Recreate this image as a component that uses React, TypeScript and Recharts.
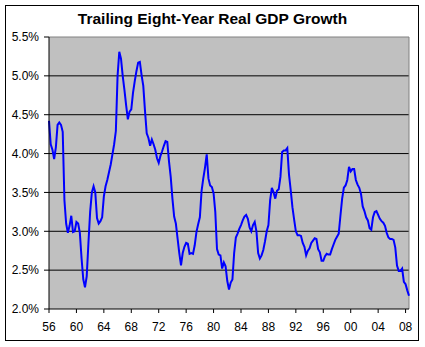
import {
  CartesianGrid,
  Line,
  LineChart,
  ReferenceLine,
  XAxis,
  YAxis,
} from "recharts";

// quarterly, starting 1956 Q1
const START_YEAR = 1956;

const GROWTH = [
  4.42, 4.12, 4.05, 3.93, 4.08, 4.37, 4.4, 4.37, 4.28, 3.4, 3.1, 2.98, 3.07, 3.2, 2.99, 3.0,
  3.12, 3.1, 2.98, 2.65, 2.38, 2.28, 2.42, 2.85, 3.25, 3.5, 3.58, 3.5, 3.17, 3.1, 3.13, 3.18,
  3.45, 3.58, 3.66, 3.76, 3.86, 3.99, 4.12, 4.29, 5.0, 5.31, 5.22, 5.0, 4.82, 4.62, 4.44, 4.54,
  4.57, 4.78, 4.93, 5.06, 5.17, 5.18, 5.01, 4.87, 4.55, 4.26, 4.2, 4.1, 4.18, 4.12, 4.05, 3.94,
  3.88, 3.97, 4.03, 4.1, 4.16, 4.15, 3.9, 3.7, 3.42, 3.19, 3.1, 2.91, 2.72, 2.56, 2.72, 2.8,
  2.85, 2.84, 2.71, 2.72, 2.71, 2.82, 2.99, 3.09, 3.18, 3.52, 3.68, 3.82, 3.99, 3.68, 3.59, 3.57,
  3.49, 3.25, 2.77, 2.7, 2.69, 2.52, 2.6, 2.55, 2.36, 2.25, 2.34, 2.38, 2.72, 2.92, 2.97, 3.03,
  3.08, 3.14, 3.19, 3.21, 3.16, 3.05, 3.0, 3.08, 3.12, 3.0, 2.72, 2.65, 2.69, 2.76, 2.87, 3.0,
  3.08, 3.4, 3.56, 3.5, 3.42, 3.52, 3.54, 3.7, 4.02, 4.04, 4.04, 4.07, 3.73, 3.53, 3.31, 3.15,
  3.0, 2.95, 2.95, 2.94, 2.85, 2.8, 2.69, 2.75, 2.78, 2.85, 2.88, 2.91, 2.9, 2.77, 2.73, 2.62,
  2.62, 2.68, 2.71, 2.7, 2.7, 2.77, 2.83, 2.89, 2.93, 2.97, 3.2, 3.42, 3.56, 3.59, 3.66, 3.83,
  3.77, 3.8, 3.8, 3.66, 3.6, 3.56, 3.48, 3.32, 3.26, 3.18, 3.14, 3.04, 3.02, 3.18, 3.25, 3.26,
  3.21, 3.16, 3.13, 3.11, 3.07, 2.98, 2.92, 2.9, 2.9, 2.89, 2.79, 2.56, 2.49, 2.49, 2.52, 2.35,
  2.32, 2.24, 2.17,
];

const YEAR_TICKS = [
  1956, 1960, 1964, 1968, 1972, 1976, 1980, 1984, 1988, 1992, 1996, 2000, 2004, 2008,
];
const PCT_TICKS = [2.0, 2.5, 3.0, 3.5, 4.0, 4.5, 5.0, 5.5];

const FONT = "'Liberation Sans', Arial, sans-serif";

const data = GROWTH.map((g, i) => ({ x: START_YEAR + i / 4, g }));
const lastX = START_YEAR + (GROWTH.length - 1) / 4;

export default function App() {
  return (
    <div
      style={{
        position: "absolute",
        left: 0,
        top: 0,
        width: 425,
        height: 347,
        background: "#fff",
        fontFamily: FONT,
      }}
    >
      <div
        style={{
          position: "absolute",
          left: 5,
          top: 5,
          width: 412,
          height: 334,
          border: "1px solid #000",
        }}
      />
      <div
        style={{
          position: "absolute",
          left: 0,
          width: 425,
          top: 10,
          textAlign: "center",
          fontSize: 15.5,
          fontWeight: "bold",
          color: "#000",
        }}
      >
        Trailing Eight-Year Real GDP Growth
      </div>
      <div style={{ position: "absolute", left: 0, top: 0 }}>
        <LineChart
          width={425}
          height={347}
          data={data}
          margin={{ top: 37, right: 16, bottom: 0, left: 0 }}
        >
          <CartesianGrid
            fill="#C0C0C0"
            stroke="#000"
            vertical={false}
            horizontalValues={[2.5, 3.0, 3.5, 4.0, 4.5, 5.0]}
          />
          <XAxis
            dataKey="x"
            type="number"
            domain={[START_YEAR, lastX]}
            ticks={YEAR_TICKS}
            tickFormatter={(v: number) => String(v % 100).padStart(2, "0")}
            height={38}
            tickSize={4}
            tickMargin={9}
            stroke="#000"
            tick={{ fill: "#000", fontSize: 12, fontFamily: FONT }}
            interval={0}
          />
          <YAxis
            domain={[2, 5.5]}
            ticks={PCT_TICKS}
            tickFormatter={(v: number) => v.toFixed(1) + "%"}
            width={49}
            tickSize={5}
            tickMargin={5}
            stroke="#000"
            tick={{ fill: "#000", fontSize: 12, fontFamily: FONT }}
            interval={0}
          />
          <ReferenceLine y={5.5} stroke="#808080" />
          <ReferenceLine x={lastX} stroke="#808080" />
          <Line
            type="linear"
            dataKey="g"
            stroke="#0000FF"
            strokeWidth={2}
            dot={false}
            isAnimationActive={false}
          />
        </LineChart>
      </div>
    </div>
  );
}
